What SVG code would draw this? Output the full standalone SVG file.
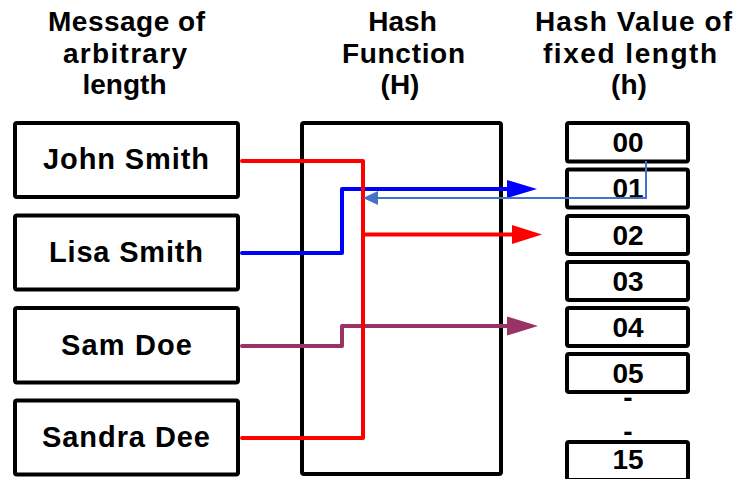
<svg xmlns="http://www.w3.org/2000/svg" width="736" height="479" viewBox="0 0 736 479">
  <style>
    .hdr { font-family: "Liberation Sans", Arial, sans-serif; font-weight: bold; font-size: 28px; fill: #000; text-anchor: middle; }
    .lbl { font-family: "Liberation Sans", Arial, sans-serif; font-weight: bold; font-size: 29px; fill: #000; text-anchor: middle; }
    .val { font-family: "Liberation Sans", Arial, sans-serif; font-weight: bold; font-size: 28px; fill: #000; text-anchor: middle; }
    .box { fill: #fff; stroke: #000; stroke-width: 4; }
    .wire { fill: none; stroke-width: 4; stroke-linecap: round; stroke-linejoin: round; }
  </style>
  <defs>
    <marker id="arrRed" markerUnits="userSpaceOnUse" markerWidth="31" markerHeight="20" refX="0" refY="10" orient="auto" overflow="visible">
      <path d="M0,0.5 L30,10 L0,19.5 Z" fill="#FF0000"/>
    </marker>
    <marker id="arrBlue" markerUnits="userSpaceOnUse" markerWidth="31" markerHeight="20" refX="0" refY="10" orient="auto" overflow="visible">
      <path d="M0,1 L30,10 L0,19 Z" fill="#0000FF"/>
    </marker>
    <marker id="arrPurple" markerUnits="userSpaceOnUse" markerWidth="31" markerHeight="20" refX="0" refY="10" orient="auto" overflow="visible">
      <path d="M0,0.5 L31,10 L0,19.5 Z" fill="#993366"/>
    </marker>
    <marker id="arrThin" markerUnits="userSpaceOnUse" markerWidth="16" markerHeight="14" refX="0" refY="7" orient="auto" overflow="visible">
      <path d="M0,0 L15,7 L0,14 Z" fill="#4472C4"/>
    </marker>
  </defs>

  <!-- column headings -->
  <g id="heading-messages">
    <text class="hdr" x="126.5" y="31" textLength="157">Message of</text>
    <text class="hdr" x="125" y="63" textLength="124">arbitrary</text>
    <text class="hdr" x="124.5" y="94">length</text>
  </g>
  <g id="heading-function">
    <text class="hdr" x="402.5" y="31">Hash</text>
    <text class="hdr" x="403.5" y="63" textLength="123">Function</text>
    <text class="hdr" x="400" y="94">(H)</text>
  </g>
  <g id="heading-values">
    <text class="hdr" x="633.5" y="31" textLength="197">Hash Value of</text>
    <text class="hdr" x="630" y="63" textLength="174">fixed length</text>
    <text class="hdr" x="629" y="94">(h)</text>
  </g>

  <!-- hash function block -->
  <g id="hash-function">
    <rect class="box" x="302" y="123" width="199" height="351" rx="2"/>
  </g>

  <!-- input messages -->
  <g id="msg-john">
    <rect class="box" x="15" y="123" width="223" height="74" rx="2"/>
    <text class="lbl" x="126" y="169" textLength="166">John Smith</text>
  </g>
  <g id="msg-lisa">
    <rect class="box" x="15" y="215.5" width="223" height="74" rx="2"/>
    <text class="lbl" x="126" y="262" textLength="154">Lisa Smith</text>
  </g>
  <g id="msg-sam">
    <rect class="box" x="15" y="308" width="223" height="74.5" rx="2"/>
    <text class="lbl" x="126.5" y="354.5" textLength="131">Sam Doe</text>
  </g>
  <g id="msg-sandra">
    <rect class="box" x="15" y="400.5" width="223" height="74" rx="2"/>
    <text class="lbl" x="126" y="447" textLength="168">Sandra Dee</text>
  </g>

  <!-- hash values -->
  <g id="h00">
    <rect class="box" x="567" y="123" width="121" height="38.5" rx="2"/>
    <text class="val" x="628" y="152">00</text>
  </g>
  <g id="h01">
    <rect class="box" x="567" y="169.5" width="121" height="38" rx="2"/>
    <text class="val" x="628" y="198">01</text>
  </g>
  <g id="h02">
    <rect class="box" x="567" y="216" width="121" height="38" rx="2"/>
    <text class="val" x="628" y="244.5">02</text>
  </g>
  <g id="h03">
    <rect class="box" x="567" y="262" width="121" height="38" rx="2"/>
    <text class="val" x="628" y="290.5">03</text>
  </g>
  <g id="h04">
    <rect class="box" x="567" y="308" width="121" height="38" rx="2"/>
    <text class="val" x="628" y="336.5">04</text>
  </g>
  <g id="h05">
    <rect class="box" x="567" y="354" width="121" height="38" rx="2"/>
    <text class="val" x="628" y="382.5">05</text>
  </g>
  <g id="ellipsis">
    <text class="val" x="628" y="407">-</text>
    <text class="val" x="628" y="441">-</text>
  </g>
  <g id="h15">
    <rect class="box" x="567" y="442" width="121" height="38" rx="2"/>
    <text class="val" x="628" y="469">15</text>
  </g>

  <!-- connectors -->
  <g id="connectors">
    <path class="wire" stroke="#0000FF" d="M242,253 H342 V189 H507" marker-end="url(#arrBlue)"/>
    <path class="wire" stroke="#993366" d="M242,346 H342 V326 H507" marker-end="url(#arrPurple)"/>
    <path class="wire" stroke="#FF0000" d="M242,161 H363 V438 H242"/>
    <path class="wire" stroke="#FF0000" d="M363,234.5 H512" marker-end="url(#arrRed)"/>
    <path fill="none" stroke="#4472C4" stroke-width="2" d="M646,161 V198 H378" marker-end="url(#arrThin)"/>
  </g>
</svg>
